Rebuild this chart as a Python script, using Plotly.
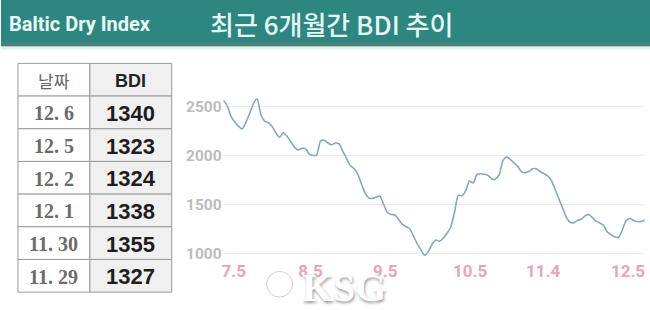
import plotly.graph_objects as go

# ---- data ----
bdi_values = [
    2568, 2510, 2400, 2345, 2300, 2275, 2345, 2435, 2535, 2585,
    2420, 2355, 2340, 2300, 2235, 2188, 2235, 2200, 2145, 2088,
    2060, 2075, 2073, 2015, 2002, 2009, 2150, 2158, 2130, 2112,
    2130, 2120, 2045, 1970, 1900, 1868, 1810, 1710, 1615, 1565,
    1562, 1575, 1585, 1495, 1414, 1397, 1391, 1345, 1295, 1271,
    1250, 1175, 1095, 1033, 976, 1020, 1093, 1135, 1122, 1152,
    1205, 1268, 1420, 1592, 1590, 1640, 1740, 1720, 1805, 1814,
    1810, 1798, 1761, 1761, 1805, 1950, 1988, 1960, 1925, 1890,
    1835, 1825, 1840, 1865, 1865, 1838, 1816, 1792, 1745, 1655,
    1560, 1465, 1370, 1318, 1310, 1336, 1347, 1380, 1398, 1365,
    1328, 1310, 1288, 1220, 1190, 1168, 1160, 1230, 1327, 1355,
    1338, 1324, 1323, 1340,
]
x_index = list(range(len(bdi_values)))

x_tick_labels = ["7.5", "8.5", "9.5", "10.5", "11.4", "12.5"]
x_tick_pos = [2.7, 23.3, 43.4, 66.2, 85.8, 108.6]
y_ticks = [1000, 1500, 2000, 2500]

table_header = ["날짜", "BDI"]
table_dates = ["12. 6", "12. 5", "12. 2", "12. 1", "11. 30", "11. 29"]
table_bdi = [1340, 1323, 1324, 1338, 1355, 1327]

header_text = "Baltic Dry Index"
title_text = "최근 6개월간 BDI 추이"
watermark_text = "KSG"

W, H = 650, 310


def px_x(p):
    return p / W


def px_y(p):
    return 1 - p / H


fig = go.Figure()

fig.add_trace(go.Scatter(
    x=x_index, y=bdi_values, mode="lines",
    line=dict(color="#80a8c8", width=1.6, shape="spline", smoothing=0.6),
    hoverinfo="skip",
))

shapes = [
    dict(type="rect", xref="paper", yref="paper", x0=0, x1=1,
         y0=px_y(47), y1=1, fillcolor="#2e8680", line=dict(width=0), layer="below"),
    dict(type="rect", xref="paper", yref="paper", x0=0, x1=1,
         y0=px_y(47), y1=px_y(43), fillcolor="#4f807c", line=dict(width=0), layer="below"),
    dict(type="rect", xref="paper", yref="paper", x0=0, x1=1,
         y0=px_y(50), y1=px_y(47), fillcolor="#e4f4f1", line=dict(width=0), layer="below"),
]

annotations = [
    dict(text=header_text, xref="paper", yref="paper",
         x=px_x(6), y=px_y(24), xanchor="left", yanchor="middle", showarrow=False,
         font=dict(family="Liberation Sans Narrow, Roboto",
                   weight="bold", size=20, color="#e6fbf8")),
    dict(text=title_text, xref="paper", yref="paper",
         x=px_x(331), y=px_y(24), xanchor="center", yanchor="middle", showarrow=False,
         font=dict(family="Noto Sans CJK KR", size=26, weight=500, color="#e3f8f5")),
]

# ---- table drawn as cells ----
tx = [17, 89, 171]
row_h = 33
top = 64
rows = [table_header] + [[d, str(v)] for d, v in zip(table_dates, table_bdi)]
for r, (left, right) in enumerate(rows):
    y0 = top + r * row_h
    y1 = y0 + row_h
    shapes.append(dict(type="rect", xref="paper", yref="paper",
                       x0=px_x(tx[0]), x1=px_x(tx[1]), y0=px_y(y1), y1=px_y(y0),
                       fillcolor="#ffffff", line=dict(color="#9a9a9a", width=1)))
    shapes.append(dict(type="rect", xref="paper", yref="paper",
                       x0=px_x(tx[1]), x1=px_x(tx[2]), y0=px_y(y1), y1=px_y(y0),
                       fillcolor="#f0f0f0", line=dict(color="#9a9a9a", width=1)))
    yc = px_y(y0 + row_h / 2 + 1)
    if r == 0:
        lf = dict(family="Noto Sans CJK KR", size=17, color="#666666")
        rf = dict(family="Liberation Sans", size=18, color="#222222", weight="bold")
    else:
        lf = dict(family="Liberation Serif", size=20, color="#6b6b6b", weight="bold")
        rf = dict(family="Liberation Sans", size=22, color="#1e1e1e", weight="bold")
    annotations.append(dict(text=left, xref="paper", yref="paper",
                            x=px_x((tx[0] + tx[1]) / 2), y=yc,
                            xanchor="center", yanchor="middle", showarrow=False, font=lf))
    annotations.append(dict(text=right, xref="paper", yref="paper",
                            x=px_x((tx[1] + tx[2]) / 2), y=yc,
                            xanchor="center", yanchor="middle", showarrow=False, font=rf))

# ---- watermark ----
shapes.append(dict(type="circle", xref="paper", yref="paper",
                   x0=px_x(266), x1=px_x(292), y0=px_y(300), y1=px_y(274),
                   fillcolor="#ffffff", line=dict(color="#d0d0d0", width=1)))
annotations.append(dict(text=watermark_text, xref="paper", yref="paper",
                        x=px_x(344), y=px_y(290), xanchor="center", yanchor="middle",
                        showarrow=False,
                        font=dict(family="Liberation Serif", size=40, weight="bold",
                                  color="#ffffff", shadow="1px 2px 3px #9a9a9a")))

fig.update_layout(
    width=W, height=H,
    margin=dict(l=0, r=0, t=0, b=0),
    paper_bgcolor="#ffffff", plot_bgcolor="#ffffff",
    showlegend=False,
    shapes=shapes,
    annotations=annotations,
    xaxis=dict(
        domain=[px_x(222), px_x(645)], range=[-0.27, 113.16],
        tickmode="array", tickvals=x_tick_pos, ticktext=x_tick_labels,
        showgrid=False, zeroline=False, showline=False, ticks="",
        tickfont=dict(family="Liberation Sans Narrow, Roboto", size=17,
                      color="#eaa3bd", weight="bold"),
        fixedrange=True,
    ),
    yaxis=dict(
        domain=[px_y(262), px_y(90)], range=[935, 2683],
        tickmode="array", tickvals=y_ticks,
        showgrid=True, gridcolor="#ececec", gridwidth=1,
        zeroline=False, showline=False, ticks="",
        tickfont=dict(family="Roboto", size=15.5, color="#bcbcbc", weight="bold"),
        fixedrange=True,
    ),
)

fig.write_html("out.html")
